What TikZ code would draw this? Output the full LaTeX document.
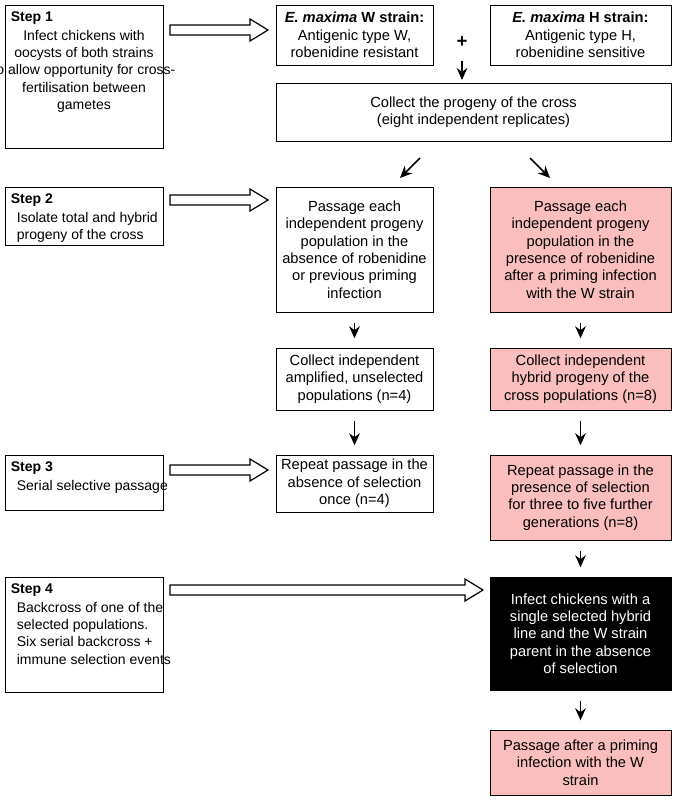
\documentclass[tikz,border=0pt]{standalone}
\usepackage{fontspec}
\setmainfont{Liberation Sans}
\usetikzlibrary{calc,arrows.meta}
\begin{document}
\begin{tikzpicture}[x=0.75pt,y=-0.75pt,
  bx/.style={draw,line width=0.6pt,align=center,font=\fontsize{11}{13}\selectfont,inner sep=2pt},
  pink/.style={bx,fill={rgb,255:red,250;green,190;blue,190}},
  blk/.style={bx,fill=black,text=white},
  lab/.style={anchor=north west,align=left,font=\fontsize{10.5}{13}\selectfont,inner sep=0pt},
  ar/.style={-{Stealth[length=9pt,width=8pt]},line width=1.1pt},
  hol/.style={line width=0.9pt,fill=white}]
\useasboundingbox (0,0) rectangle (679,800);
\newcommand\bx[7]{\node[#6,minimum width={(#4-#2)*0.75pt},minimum height={(#5-#3)*0.75pt}] (#1) at ({(#2+#4)/2},{(#3+#5)/2}) {#7};}
\newcommand\harrow[3]{\draw[hol] (#1,#3-5) -- (#2-18,#3-5) -- (#2-18,#3-11) -- (#2,#3) -- (#2-18,#3+11) -- (#2-18,#3+5) -- (#1,#3+5) -- cycle;}
% step boxes
\bx{s1}{5}{5}{163}{148}{bx}{}
\node[lab,font=\fontsize{10.5}{13}\bfseries] (s1t) at ($(s1.north west)+(6,7)$) {Step 1};
\node[lab,align=center,anchor=north] (s1b) at ($(s1.north)+(0,25)$) {Infect chickens with\\oocysts of both strains\\to allow opportunity for cross-\\fertilisation between\\gametes};
\bx{s2}{5}{187}{163}{245}{bx}{}
\node[lab,font=\fontsize{10.5}{13}\bfseries] (s2t) at ($(s2.north west)+(6,7)$) {Step 2};
\node[lab] (s2b) at ($(s2.north west)+(12,25)$) {Isolate total and hybrid\\progeny of the cross};
\bx{s3}{5}{455}{163}{510}{bx}{}
\node[lab,font=\fontsize{10.5}{13}\bfseries] (s3t) at ($(s3.north west)+(6,7)$) {Step 3};
\node[lab] (s3b) at ($(s3.north west)+(12,25)$) {Serial selective passage};
\bx{s4}{5}{577}{163}{692}{bx}{}
\node[lab,font=\fontsize{10.5}{13}\bfseries] (s4t) at ($(s4.north west)+(6,7)$) {Step 4};
\node[lab] (s4b) at ($(s4.north west)+(12,25)$) {Backcross of one of the\\selected populations.\\Six serial backcross +\\immune selection events};
% right column
\bx{w}{276}{5}{433}{65}{bx}{\textbf{\textit{E. maxima} W strain:}\\Antigenic type W,\\robenidine resistant}
\bx{h}{490}{5}{671}{65}{bx}{\textbf{\textit{E. maxima} H strain:}\\Antigenic type H,\\robenidine sensitive}
\node[font=\fontsize{14}{14}\bfseries] (plus) at (462,42) {+};
\bx{c}{276}{83}{671}{141}{bx}{Collect the progeny of the cross\\(eight independent replicates)}
\bx{l1}{276}{187}{433}{312}{bx}{Passage each\\independent progeny\\population in the\\absence of robenidine\\or previous priming\\infection}
\bx{r1}{490}{187}{671}{312}{pink}{Passage each\\independent progeny\\population in the\\presence of robenidine\\after a priming infection\\with the W strain}
\bx{l2}{276}{348}{433}{410}{bx}{Collect independent\\amplified, unselected\\populations (n=4)}
\bx{r2}{490}{348}{671}{410}{pink}{Collect independent\\hybrid progeny of the\\cross populations (n=8)}
\bx{l3}{276}{455}{433}{512}{bx}{Repeat passage in the\\absence of selection\\once (n=4)}
\bx{r3}{490}{455}{671}{540}{pink}{Repeat passage in the\\presence of selection\\for three to five further\\generations (n=8)}
\bx{r4}{490}{577}{671}{690}{blk}{Infect chickens with a\\single selected hybrid\\line and the W strain\\parent in the absence\\of selection}
\bx{r5}{490}{730}{671}{795}{pink}{Passage after a priming\\infection with the W\\strain}
% arrows
\coordinate (pa) at (462,61);
\coordinate (pb) at (462,80);
\draw[ar] (pa) -- (pb);
\coordinate (d1a) at (420,158); \coordinate (d1b) at (400,178);
\coordinate (d2a) at (530,158); \coordinate (d2b) at (550,178);
\draw[ar] (d1a) -- (d1b);
\draw[ar] (d2a) -- (d2b);
\foreach \a/\b in {l1/l2,r1/r2,l2/l3,r2/r3,r3/r4,r4/r5}{
  \draw[ar,shorten <=8pt,shorten >=7pt] (\a.south) -- (\b.north);}
\harrow{170}{268}{30}
\harrow{170}{268}{200}
\harrow{170}{268}{470}
\harrow{170}{483}{590}
\end{tikzpicture}
\end{document}
